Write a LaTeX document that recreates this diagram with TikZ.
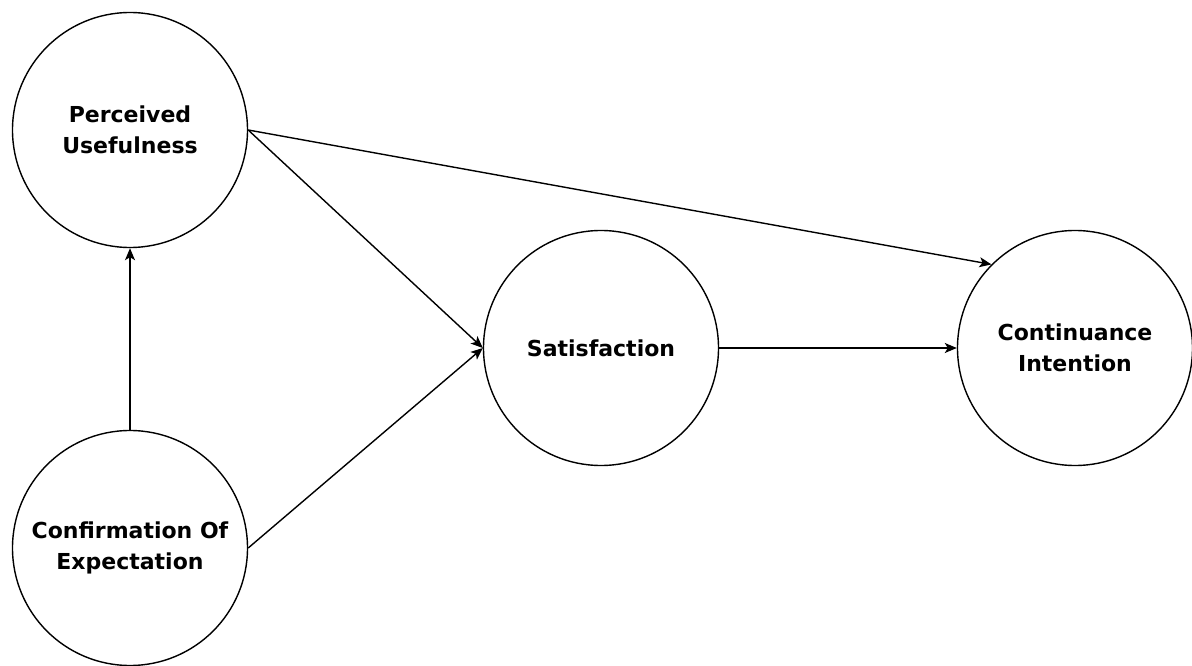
\documentclass[tikz,border=0pt]{standalone}
\usepackage{fontspec}
\setmainfont{DejaVu Sans}
\usetikzlibrary{arrows.meta}
\begin{document}
\begin{tikzpicture}[x=1pt,y=-1pt,
  circ/.style={circle,draw=black,line width=1.4pt,minimum size=235pt,inner sep=0pt,
    align=center,font=\bfseries\fontsize{22}{31}\selectfont},
  arr/.style={line width=1.4pt,-{Stealth[length=12pt,width=10pt,inset=3pt]}}]
\useasboundingbox[fill=white] (0,0) rectangle (1192,666);
\node[circ] (pu) at (130,130) {Perceived\\Usefulness};
\node[circ] (ce) at (130,548) {Confirmation Of\\Expectation};
\node[circ] (sat) at (601,348) {Satisfaction};
\node[circ] (ci) at (1075,348) {Continuance\\Intention};
\draw[arr] (ce.north) -- (pu.south);
\draw[arr] (pu.east) -- (sat.west);
\draw[arr] (ce.east) -- (sat.west);
\draw[arr] (pu.east) -- (ci.135);
\draw[arr] (sat.east) -- (ci.west);
\end{tikzpicture}
\end{document}
